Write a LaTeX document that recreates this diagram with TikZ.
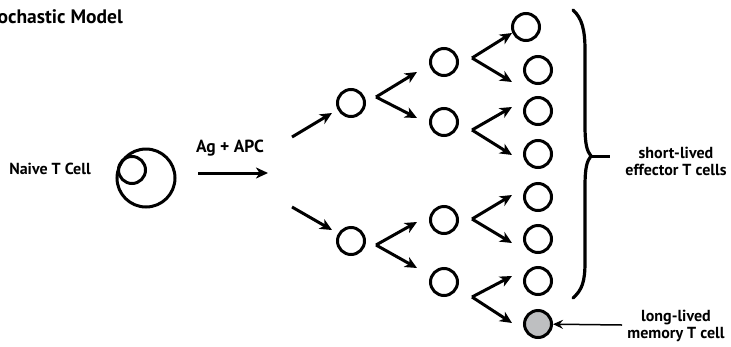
\documentclass[tikz,border=0pt]{standalone}
\usepackage{fontspec}
\setmainfont{PT Sans}
\usetikzlibrary{arrows.meta}
\definecolor{memgray}{RGB}{190,191,193}
\begin{document}
\begin{tikzpicture}[x=1pt,y=-1pt,
  cell/.style={circle,draw,line width=3pt,minimum size=27pt,inner sep=0pt},
  arr/.style={line width=3pt,-{Stealth[length=12pt,width=11pt,inset=3.5pt]}},
  lbl/.style={font=\bfseries\fontsize{16}{17}\selectfont,align=center,inner sep=0pt}]
\useasboundingbox (0,0) rectangle (731,346);
% title
\node[anchor=east,font=\bfseries\fontsize{19.5}{21}\selectfont,inner sep=0pt] (title) at (123,17) {Stochastic Model};
% naive cell
\node[circle,draw,line width=3pt,minimum size=58pt,inner sep=0pt] (naive) at (146,178) {};
\node[cell] (nucleus) at (132,170) {};
\node[lbl] (naivelbl) at (50,169) {Naive T Cell};
\node[lbl,font=\bfseries\fontsize{17.5}{19}\selectfont] (aglbl) at (230,148) {Ag + APC};
\coordinate (a0s) at (198,173); \coordinate (a0e) at (268,173);
\draw[arr] (a0s) -- (a0e);
% cells
\node[cell] (n1a) at (351,103) {};
\node[cell] (n1b) at (351,241) {};
\node[cell] (n2a) at (444,62) {};
\node[cell] (n2b) at (444,122) {};
\node[cell] (n2c) at (444,220) {};
\node[cell] (n2d) at (444,282) {};
\node[cell] (n3a) at (526,27) {};
\node[cell] (n3b) at (538,70) {};
\node[cell] (n3c) at (538,111) {};
\node[cell] (n3d) at (538,154) {};
\node[cell] (n3e) at (538,197) {};
\node[cell] (n3f) at (538,239) {};
\node[cell] (n3g) at (538,281) {};
\node[cell,fill=memgray] (n3h) at (538,324) {};
% arrows to level 1
\coordinate (s1a) at (292,137); \coordinate (t1a) at (332,113);
\coordinate (s1b) at (292,207); \coordinate (t1b) at (332,230);
\draw[arr] (s1a) -- (t1a);
\draw[arr] (s1b) -- (t1b);
% V from level 1
\coordinate (v1a) at (376,97);
\coordinate (v1b) at (376,245);
\coordinate (t2a) at (417,72); \coordinate (t2b) at (417,118);
\coordinate (t2c) at (417,222); \coordinate (t2d) at (417,268);
\draw[arr] (v1a) -- (t2a); \draw[arr] (v1a) -- (t2b);
\draw[arr] (v1b) -- (t2c); \draw[arr] (v1b) -- (t2d);
% V from level 2
\coordinate (v2a) at (472,58);
\coordinate (v2b) at (472,130);
\coordinate (v2c) at (472,219);
\coordinate (v2d) at (472,297);
\coordinate (t3a) at (512,33); \coordinate (t3b) at (512,82);
\coordinate (t3c) at (512,107); \coordinate (t3d) at (512,155);
\coordinate (t3e) at (512,195); \coordinate (t3f) at (512,243);
\coordinate (t3g) at (512,276); \coordinate (t3h) at (512,323);
\draw[arr] (v2a) -- (t3a); \draw[arr] (v2a) -- (t3b);
\draw[arr] (v2b) -- (t3c); \draw[arr] (v2b) -- (t3d);
\draw[arr] (v2c) -- (t3e); \draw[arr] (v2c) -- (t3f);
\draw[arr] (v2d) -- (t3g); \draw[arr] (v2d) -- (t3h);
% brace
\coordinate (btip) at (591,156);
\coordinate (btick) at (610,156);
\draw[line width=3.2pt,line cap=round,line join=round]
  (573,10) .. controls (582,18) and (585,30) .. (585,50) -- (585,125)
  .. controls (585,145) and (587,151) .. (btip)
  .. controls (587,161) and (585,167) .. (585,187) -- (585,262)
  .. controls (585,282) and (582,290) .. (573,298);
\draw[line width=3pt] (btip) -- (btick);
\node[lbl] (efflbl) at (676,161) {short-lived\\effector T cells};
\node[lbl] (memlbl) at (676,326) {long-lived\\memory T cell};
\coordinate (ms) at (622,325);
\draw[line width=1.5pt,-{Stealth[length=10pt,width=9pt,inset=3.5pt]}] (ms) -- (n3h);
\end{tikzpicture}
\end{document}
